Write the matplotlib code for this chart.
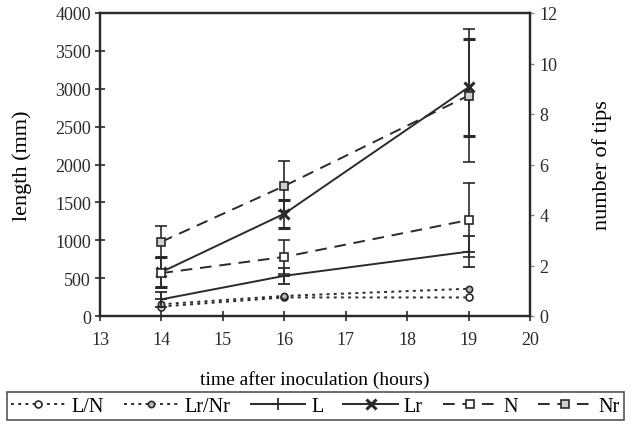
import matplotlib
matplotlib.use("Agg")
import matplotlib.pyplot as plt
from matplotlib.lines import Line2D

plt.rcParams['font.family'] = ['Liberation Serif', 'DejaVu Serif']

hours = [14, 16, 19]

# root length (mm), left axis
L = [220, 530, 850]
L_err = [100, 110, 200]
Lr = [580, 1350, 3020]
Lr_err = [200, 185, 640]

# length per tip (mm), left axis
L_N = [125, 245, 245]
Lr_Nr = [155, 265, 360]

# number of tips, right axis
N = [1.7, 2.34, 3.8]
N_err = [0.6, 0.67, 1.47]
Nr = [2.94, 5.15, 8.73]
Nr_err = [0.63, 0.99, 2.64]

x_ticks = [13, 14, 15, 16, 17, 18, 19, 20]
len_ticks = [0, 500, 1000, 1500, 2000, 2500, 3000, 3500, 4000]
tip_ticks = [0, 2, 4, 6, 8, 10, 12]
series_names = ['L/N', 'Lr/Nr', 'L', 'Lr', 'N', 'Nr']

ink = '#2a2a2a'
dot = (0, (1.5, 2.2))
dash = (0, (6, 4))

styles = [
    dict(linestyle=dot, marker='o', ms=5, mfc='white', mec=ink, mew=1.2),
    dict(linestyle=dot, marker='o', ms=4.5, mfc='#bbbbbb', mec=ink, mew=1.2),
    dict(linestyle='-', marker='+', ms=8, mew=1.3),
    dict(linestyle='-', marker='x', ms=7, mew=2.2),
    dict(linestyle=dash, marker='s', ms=6, mfc='white', mec=ink, mew=1.2),
    dict(linestyle=dash, marker='s', ms=6, mfc='#cfcfcf', mec=ink, mew=1.2),
]

fig = plt.figure(figsize=(6.31, 4.27), dpi=100)
ax = fig.add_axes([100/631, 1 - 317/427, 430/631, 303/427])
ax2 = ax.twinx()

eb = dict(color=ink, ecolor=ink, capsize=4, elinewidth=1.2, capthick=1.2, lw=1.4)

ax.plot(hours, L_N, color=ink, lw=1.4, **styles[0])
ax.plot(hours, Lr_Nr, color=ink, lw=1.4, **styles[1])
ax.errorbar(hours, L, yerr=L_err, **styles[2], **eb)
ax.errorbar(hours, Lr, yerr=Lr_err, **styles[3], **eb)
ax2.errorbar(hours, N, yerr=N_err, **styles[4], **eb)
ax2.errorbar(hours, Nr, yerr=Nr_err, **styles[5], **eb)

ax.set_xlim(13, 20)
ax.set_ylim(0, 4000)
ax2.set_ylim(0, 12)
ax.set_xticks(x_ticks)
ax.set_yticks(len_ticks)
ax2.set_yticks(tip_ticks)

for a in (ax, ax2):
    for s in a.spines.values():
        s.set_color(ink)
        s.set_linewidth(1.6)
ax.tick_params(axis='both', direction='inout', length=7, width=1.2, colors=ink,
               labelsize=13, pad=3)
ax.tick_params(axis='x', pad=7)
ax2.tick_params(axis='y', direction='out', length=3, width=1, colors='#888888',
                labelcolor=ink, labelsize=13, pad=4)

ax.set_ylabel('length (mm)', fontsize=16)
ax.yaxis.set_label_coords(-0.158, 0.5)
ax2.set_ylabel('number of tips', fontsize=16, rotation=90)
ax2.yaxis.set_label_coords(1.144, 0.5)
ax.set_xlabel('time after inoculation (hours)', fontsize=14, labelpad=16)

handles = [Line2D([], [], color=ink, lw=1.4, **st) for st in styles]
leg = fig.legend(handles, series_names,
                 loc='center', bbox_to_anchor=(0.5, 1 - 407/427), ncol=6,
                 fontsize=14.5, frameon=True, fancybox=False, handlelength=2.7,
                 handletextpad=0.3, columnspacing=1.0, borderpad=0.2,
                 numpoints=1, borderaxespad=0)
leg.get_frame().set_edgecolor(ink)
leg.get_frame().set_linewidth(1.2)

fig.savefig('out.png', dpi=100)
